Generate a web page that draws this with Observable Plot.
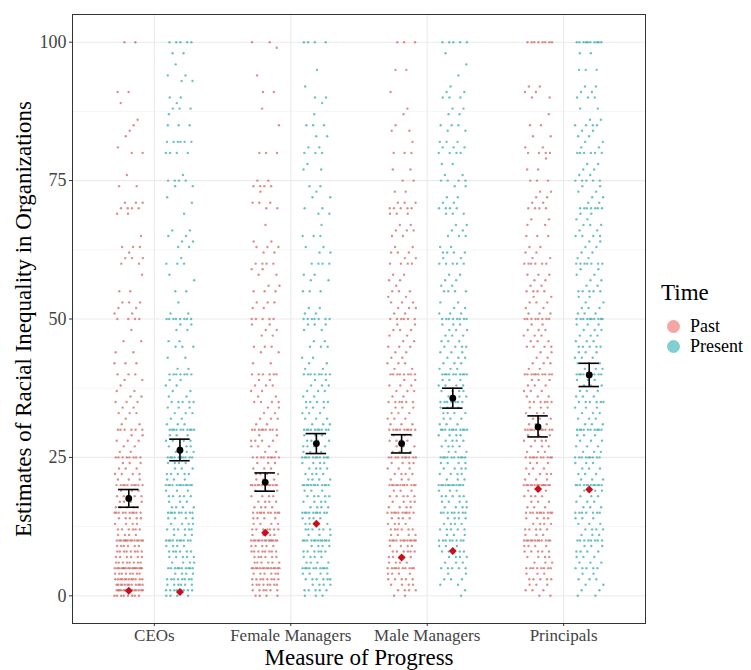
<!DOCTYPE html>
<html><head><meta charset="utf-8">
<script src="https://cdn.jsdelivr.net/npm/d3@7"></script>
<script src="https://cdn.jsdelivr.net/npm/@observablehq/plot@0.6"></script>
<style>
body{margin:0;background:#fff;font-family:"Liberation Serif","Times New Roman",serif}
#wrap{position:relative;width:751px;height:670px}
#legend{position:absolute;left:661px;top:280px;color:#000}
#legend .t{font-size:23px;line-height:26px;height:26px;margin-bottom:10px}
#legend .i{display:flex;align-items:center;font-size:18px;height:20px;line-height:20px;white-space:nowrap}
#legend .k{width:13px;height:13px;border-radius:50%;margin:0 10px 0 6px}
</style></head><body><div id="wrap"></div><script>
const categories = ["CEOs","Female Managers","Male Managers","Principals"];
const times = ["Past","Present"];
const yTicks = [0,25,50,75,100];

// [value, count]
const ceosPast = [[0,8],[1,14],[2,12],[3,12],[4,8],[5,16],[6,8],[7,6],[8,8],[9,6],[10,14],[11,4],[12,6],[13,4],[14,5],[15,10],[16,5],[17,4],[18,5],[19,3],[20,10],[21,3],[22,4],[23,3],[24,3],[25,8],[26,2],[27,2],[28,3],[29,2],[30,6],[31,2],[32,1],[33,3],[34,2],[35,3],[36,2],[37,2],[38,1],[39,2],[40,3],[42,3],[44,2],[46,2],[48,1],[50,4],[51,2],[52,2],[53,3],[55,2],[58,1],[60,2],[61,3],[62,1],[63,3],[65,1],[69,2],[70,4],[71,3],[74,2],[76,1],[80,2],[81,1],[83,1],[84,1],[85,1],[86,1],[89,1],[91,2],[100,2]];
const ceosPresent = [[0,4],[1,8],[2,6],[3,8],[4,4],[5,10],[6,4],[7,5],[8,6],[9,4],[10,10],[11,3],[12,6],[13,4],[14,4],[15,9],[16,4],[17,3],[18,5],[19,3],[20,12],[21,3],[22,5],[23,3],[24,4],[25,10],[26,3],[27,4],[28,4],[29,3],[30,10],[31,3],[32,2],[33,3],[34,3],[35,5],[36,2],[37,2],[38,2],[39,2],[40,7],[41,2],[43,2],[45,3],[46,2],[48,2],[49,2],[50,8],[51,2],[53,1],[55,2],[57,1],[58,1],[60,3],[61,1],[63,2],[64,2],[65,2],[66,2],[69,1],[71,1],[72,1],[74,2],[75,4],[76,1],[80,4],[82,6],[85,3],[87,1],[88,3],[89,1],[90,2],[93,2],[94,2],[96,1],[98,2],[100,5]];
const femalePast = [[0,4],[1,6],[2,8],[3,8],[4,6],[5,14],[6,6],[7,6],[8,8],[9,5],[10,14],[11,4],[12,7],[13,4],[14,4],[15,10],[16,4],[17,4],[18,4],[19,3],[20,12],[21,3],[22,4],[23,3],[24,3],[25,9],[26,2],[27,3],[28,4],[29,2],[30,9],[31,2],[32,3],[33,2],[34,2],[35,4],[36,2],[37,2],[38,3],[39,2],[40,6],[42,2],[44,2],[45,3],[47,2],[48,2],[49,2],[50,5],[52,2],[53,3],[55,3],[56,2],[58,2],[59,2],[60,4],[62,2],[63,3],[64,2],[67,1],[70,2],[71,3],[73,1],[74,4],[75,2],[80,3],[85,1],[88,1],[91,2],[94,1],[99,1],[100,2]];
const femalePresent = [[0,3],[1,5],[2,4],[3,6],[4,4],[5,10],[6,4],[7,4],[8,6],[9,4],[10,12],[11,3],[12,6],[13,4],[14,4],[15,10],[16,4],[17,4],[18,5],[19,3],[20,12],[21,4],[22,4],[23,4],[24,4],[25,11],[26,3],[27,4],[28,4],[29,3],[30,10],[31,3],[32,3],[33,3],[34,3],[35,5],[36,2],[37,3],[38,3],[39,2],[40,8],[41,2],[42,2],[43,2],[45,3],[46,2],[48,2],[49,3],[50,7],[51,2],[52,2],[55,3],[57,2],[58,2],[60,4],[62,2],[63,2],[65,3],[67,1],[69,2],[70,2],[72,2],[73,1],[74,2],[77,2],[78,1],[80,3],[81,2],[83,2],[85,3],[87,1],[89,1],[90,2],[92,1],[95,1],[100,4]];
const malePast = [[0,2],[1,4],[2,4],[3,5],[4,4],[5,10],[6,4],[7,5],[8,6],[9,4],[10,12],[11,4],[12,6],[13,4],[14,4],[15,10],[16,4],[17,4],[18,5],[19,3],[20,12],[21,3],[22,4],[23,3],[24,4],[25,10],[26,3],[27,3],[28,4],[29,3],[30,10],[31,3],[32,3],[33,3],[34,3],[35,6],[36,2],[37,3],[38,3],[39,2],[40,8],[41,2],[42,3],[43,2],[44,2],[45,3],[46,2],[47,2],[48,3],[49,2],[50,6],[51,2],[52,3],[53,3],[54,2],[55,3],[56,1],[57,2],[58,2],[60,4],[61,2],[62,3],[63,2],[65,2],[66,3],[67,2],[69,3],[70,5],[71,3],[73,2],[75,2],[77,2],[80,3],[82,1],[84,2],[85,1],[87,1],[88,1],[91,1],[95,2],[100,3]];
const malePresent = [[0,1],[1,1],[2,2],[3,3],[4,2],[5,5],[6,3],[7,4],[8,5],[9,3],[10,8],[11,3],[12,5],[13,4],[14,4],[15,8],[16,4],[17,4],[18,5],[19,3],[20,12],[21,3],[22,4],[23,4],[24,4],[25,10],[26,3],[27,4],[28,4],[29,4],[30,11],[31,3],[32,3],[33,4],[34,4],[35,7],[36,3],[37,4],[38,4],[39,3],[40,10],[41,3],[42,3],[43,3],[44,3],[45,4],[46,3],[47,3],[48,3],[49,3],[50,8],[51,3],[52,2],[53,2],[55,4],[56,2],[57,2],[58,2],[60,5],[61,2],[62,4],[63,2],[65,3],[66,2],[67,2],[69,3],[70,4],[71,2],[72,2],[74,2],[75,4],[76,2],[78,2],[80,4],[81,3],[82,3],[84,2],[85,3],[87,2],[88,2],[90,3],[91,2],[92,1],[94,1],[96,1],[98,1],[100,5]];
const principalsPast = [[0,2],[1,3],[2,3],[3,5],[4,3],[5,8],[6,3],[7,4],[8,5],[9,4],[10,12],[11,3],[12,5],[13,4],[14,4],[15,10],[16,3],[17,3],[18,4],[19,3],[20,14],[21,3],[22,4],[23,3],[24,3],[25,10],[26,3],[27,3],[28,4],[29,3],[30,11],[31,3],[32,3],[33,3],[34,3],[35,6],[36,3],[37,3],[38,3],[39,3],[40,10],[41,2],[42,3],[43,2],[44,2],[45,4],[46,3],[47,3],[48,3],[49,2],[50,8],[51,3],[52,2],[53,3],[54,2],[55,4],[56,2],[57,2],[58,3],[60,6],[61,2],[62,2],[63,2],[65,3],[67,2],[68,2],[70,4],[71,2],[72,2],[73,2],[75,3],[77,2],[79,1],[80,4],[81,2],[83,2],[85,2],[87,1],[90,2],[91,2],[92,2],[100,8]];
const principalsPresent = [[0,2],[1,2],[2,2],[3,3],[4,2],[5,5],[6,3],[7,3],[8,4],[9,3],[10,8],[11,3],[12,4],[13,3],[14,3],[15,7],[16,3],[17,3],[18,3],[19,3],[20,12],[21,3],[22,3],[23,3],[24,3],[25,9],[26,3],[27,3],[28,3],[29,3],[30,10],[31,3],[32,3],[33,3],[34,3],[35,6],[36,3],[37,3],[38,3],[39,3],[40,10],[41,3],[42,3],[43,3],[44,3],[45,5],[46,3],[47,3],[48,3],[49,3],[50,10],[51,3],[52,3],[53,2],[54,2],[55,5],[56,2],[57,2],[58,2],[59,2],[60,7],[61,2],[62,2],[63,2],[64,2],[65,4],[66,2],[67,3],[68,2],[69,2],[70,7],[71,2],[72,2],[73,2],[74,2],[75,5],[76,2],[77,2],[78,2],[80,6],[81,2],[82,2],[83,2],[84,2],[85,4],[86,2],[88,2],[90,3],[91,2],[92,2],[95,3],[98,2],[100,10]];

// means with error bars, and red diamonds
const pastMean = [17.6, 20.5, 27.5, 30.5];
const pastLo   = [16.0, 18.9, 25.8, 28.7];
const pastHi   = [19.2, 22.2, 29.1, 32.5];
const presentMean = [26.3, 27.5, 35.7, 39.9];
const presentLo   = [24.4, 25.7, 33.9, 37.8];
const presentHi   = [28.3, 29.3, 37.5, 42.0];
const pastActual    = [0.9, 11.4, 6.9, 19.3];
const presentActual = [0.7, 13.0, 8.1, 19.2];

const pointColors = {Past: "#cf5f5b", Present: "#2ea7ab"};
const legendColors = {Past: "#f5a6a2", Present: "#82cfd2"};
const dodge = {Past: -0.1875, Present: 0.1875};

const groupVals = [
  [ceosPast, ceosPresent], [femalePast, femalePresent],
  [malePast, malePresent], [principalsPast, principalsPresent]
];
const points = [];
groupVals.forEach((pair, ci) => {
  pair.forEach((vals, ti) => {
    const time = times[ti];
    vals.forEach(([v, n]) => {
      for (let j = 0; j < n; j++) {
        const u = ((j * 0.6180339887 + v * 0.1373 + ci * 0.31 + ti * 0.17) % 1) - 0.5;
        points.push({cat: ci + 1, time, value: v, jit: u * 0.21});
      }
    });
  });
});
const summary = [];
categories.forEach((c, i) => {
  summary.push({cat: i + 1, time: "Past", mean: pastMean[i], lo: pastLo[i], hi: pastHi[i], actual: pastActual[i]});
  summary.push({cat: i + 1, time: "Present", mean: presentMean[i], lo: presentLo[i], hi: presentHi[i], actual: presentActual[i]});
});
const px = d => d.cat + dodge[d.time];
const cap = 0.075;

const chart = Plot.plot({
  width: 751, height: 670,
  marginLeft: 72, marginRight: 106, marginTop: 14, marginBottom: 47,
  style: {fontFamily: '"Liberation Serif","Times New Roman",serif', fontSize: "17px", color: "#444", background: "#fff"},
  x: {domain: [0.4, 4.6]},
  y: {domain: [-5, 105]},
  marks: [
    Plot.ruleY([12.5, 37.5, 62.5, 87.5], {stroke: "#f2f2f2", strokeWidth: 0.8}),
    Plot.ruleY(yTicks, {stroke: "#ebebeb", strokeWidth: 1.1}),
    Plot.ruleX([1, 2, 3, 4], {stroke: "#ebebeb", strokeWidth: 1.1}),
    Plot.dot(points, {x: d => px(d) + d.jit, y: "value", r: 1.2, fill: d => pointColors[d.time], fillOpacity: 0.7, stroke: "none"}),
    Plot.ruleX(summary, {x: px, y1: "lo", y2: "hi", stroke: "#000", strokeWidth: 1.6}),
    Plot.ruleY(summary, {y: "lo", x1: d => px(d) - cap, x2: d => px(d) + cap, stroke: "#000", strokeWidth: 1.6}),
    Plot.ruleY(summary, {y: "hi", x1: d => px(d) - cap, x2: d => px(d) + cap, stroke: "#000", strokeWidth: 1.6}),
    Plot.dot(summary, {x: px, y: "mean", r: 3.4, fill: "#000"}),
    Plot.dot(summary, {x: px, y: "actual", r: 3.6, symbol: "diamond2", fill: "#c8101c"}),
    Plot.frame({stroke: "#333", strokeWidth: 1}),
    Plot.axisX({ticks: [1, 2, 3, 4], tickFormat: i => categories[i - 1], tickSize: 3, tickPadding: 2, stroke: "#333", label: null}),
    Plot.axisY({ticks: yTicks, tickSize: 3, tickPadding: 3, stroke: "#333", fontSize: 18, label: null}),
    Plot.text(["Estimates of Racial Inequality in Organizations"], {x: 0.4, y: 50, text: d => d, rotate: -90, dx: -49, fontSize: 23, fill: "#000"}),
    Plot.text(["Measure of Progress"], {x: 2.5, y: -5, text: d => d, dy: 34, fontSize: 23, fill: "#000"})
  ]
});
const wrap = document.getElementById("wrap");
wrap.appendChild(chart);
const leg = document.createElement("div");
leg.id = "legend";
leg.innerHTML = '<div class="t">Time</div>' + times.map(t =>
  `<div class="i"><span class="k" style="background:${legendColors[t]}"></span>${t}</div>`).join("");
wrap.appendChild(leg);
</script></body></html>
